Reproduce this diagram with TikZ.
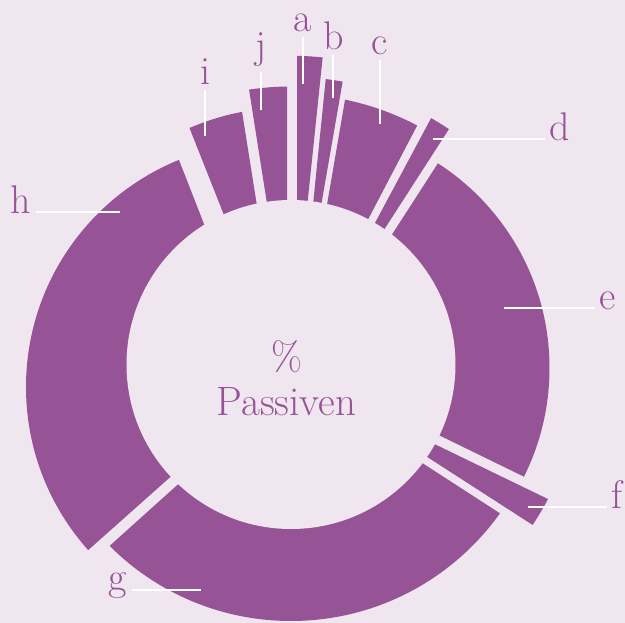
\documentclass[tikz,border=0pt]{standalone}
\usepackage{tikz}
\usetikzlibrary{calc,positioning}
\definecolor{plum}{HTML}{965496}
\definecolor{blush}{HTML}{F0E6F0}

\begin{document}
\begin{tikzpicture}
[x=1pt, y=-1pt, seg/.style={fill=plum},
 lbl/.style={text=plum, font=\fontsize{40}{48}\selectfont, inner sep=2pt, outer sep=3pt, anchor=base},
 leader/.style={draw=white, line width=2pt}]

\fill[blush] (0,0) rectangle (625,623);
\useasboundingbox (0,0) rectangle (625,623);
\coordinate (c) at (291,364.5);

% a
\begin{scope}
\clip ($(297,56)!1.25!(297,201)$) -- ($(297,201)!2.2!(297,56)$) -- ($(307.7,201)!2.2!(322.7,57)$) -- ($(322.7,57)!1.25!(307.7,201)$) -- (c) -- cycle;
\fill[seg] (c) circle (308.7);
\end{scope}
% b
\begin{scope}
\clip ($(325.7,79.3)!1.25!(313.3,202)$) -- ($(313.3,202)!2.2!(325.7,79.3)$) -- ($(321.7,202.3)!2.2!(342.7,81.3)$) -- ($(342.7,81.3)!1.25!(321.7,202.3)$) -- (c) -- cycle;
\fill[seg] (c) circle (287.5);
\end{scope}
% c
\begin{scope}
\clip ($(345,100)!1.25!(327,204.7)$) -- ($(327,204.7)!2.2!(345,100)$) -- ($(368.3,219)!2.2!(417.3,125.3)$) -- ($(417.3,125.3)!1.25!(368.3,219)$) -- (c) -- cycle;
\fill[seg] (c) circle (270.2);
\end{scope}
% d
\begin{scope}
\clip ($(431,118.3)!1.25!(375.5,222)$) -- ($(375.5,222)!2.2!(431,118.3)$) -- ($(385,228.3)!2.2!(449,129)$) -- ($(449,129)!1.25!(385,228.3)$) -- (c) -- cycle;
\fill[seg] (c) circle (283.4);
\end{scope}
% e
\begin{scope}
\clip ($(437.3,164.3)!1.25!(391.7,235)$) -- ($(391.7,235)!2.2!(437.3,164.3)$) -- ($(c)+(-13.75:700)$) -- ($(440,435.7)!2.2!(524,476.7)$) -- ($(524,476.7)!1.25!(440,435.7)$) -- (c) -- cycle;
\fill[seg] (306,368) circle (243.5);
\end{scope}
% f
\begin{scope}
\clip ($(547.3,498.7)!1.25!(435,444.3)$) -- ($(435,444.3)!2.2!(547.3,498.7)$) -- ($(427.7,457.3)!2.2!(532.7,525)$) -- ($(532.7,525)!1.25!(427.7,457.3)$) -- (c) -- cycle;
\fill[seg] (c) circle (290);
\end{scope}
% g
\begin{scope}
\clip ($(499,512.7)!1.25!(422.7,463.3)$) -- ($(422.7,463.3)!2.2!(499,512.7)$) -- ($(c)+(84.35:700)$) -- ($(177.3,485)!2.2!(111.7,544)$) -- ($(111.7,544)!1.25!(177.3,485)$) -- (c) -- cycle;
\fill[seg] (c) circle (256.5);
\end{scope}
% h
\begin{scope}
\clip ($(88.3,550)!1.25!(170,477.3)$) -- ($(170,477.3)!2.2!(88.3,550)$) -- ($(c)+(188.65:700)$) -- ($(204,224)!2.2!(179,160)$) -- ($(179,160)!1.25!(204,224)$) -- (c) -- cycle;
\fill[seg] (271,387) circle (245);
\end{scope}
% i
\begin{scope}
\clip ($(189,126.7)!1.25!(223.3,213.3)$) -- ($(223.3,213.3)!2.2!(189,126.7)$) -- ($(256.7,204)!2.2!(242.3,113.3)$) -- ($(242.3,113.3)!1.25!(256.7,204)$) -- (c) -- cycle;
\fill[seg] (c) circle (257.3);
\end{scope}
% j
\begin{scope}
\clip ($(249,89.3)!1.25!(266.7,201.7)$) -- ($(266.7,201.7)!2.2!(249,89.3)$) -- ($(287,200)!2.2!(287,87.3)$) -- ($(287,87.3)!1.25!(287,200)$) -- (c) -- cycle;
\fill[seg] (c) circle (278);
\end{scope}

\fill[blush] (c) circle (164.5);

% labels
\node[lbl] (la) at (303,32) {a};
\node[lbl] (lb) at (333.3,50) {b};
\node[lbl] (lc) at (379.5,55) {c};
\node[lbl] (ld) at (560,140.5) {d};
\node[lbl] (le) at (608,310) {e};
\node[lbl] (lf) at (617.5,508) {f};
\node[lbl] (lg) at (118,590) {g};
\node[lbl] (lh) at (21,213.3) {h};
\node[lbl] (li) at (205,85) {i};
\node[lbl] (lj) at (261,59) {j};

\coordinate (pa) at (303,84);
\coordinate (pb) at (333.3,98.3);
\coordinate (pc) at (379.5,124);
\coordinate (pd) at (432.7,139);
\coordinate (pe) at (504,308.5);
\coordinate (pf) at (528.3,507);
\coordinate (pg) at (200.7,590);
\coordinate (ph) at (120,212);
\coordinate (pi) at (205,136);
\coordinate (pj) at (261,110);

\draw[leader] (la.south) -- (pa);
\draw[leader] (lb.south) -- (pb);
\draw[leader] (lc.south) -- (pc);
\draw[leader] (pd) -- (ld.base west |- pd);
\draw[leader] (pe) -- (le.base west |- pe);
\draw[leader] (pf) -- (lf.base west |- pf);
\draw[leader] (lg.base east |- pg) -- (pg);
\draw[leader] (lh.base east |- ph) -- (ph);
\draw[leader] (li.south) -- (pi);
\draw[leader] (lj.south) -- (pj);

% centre
\node (pass) [text=plum, font=\fontsize{41}{49}\selectfont, inner sep=0pt, anchor=base] at (286.5,416) {Passiven};
\node (pct) [above=15pt of pass, text=plum, font=\fontsize{40}{48}\selectfont, inner sep=0pt] {\%};
\end{tikzpicture}
\end{document}
